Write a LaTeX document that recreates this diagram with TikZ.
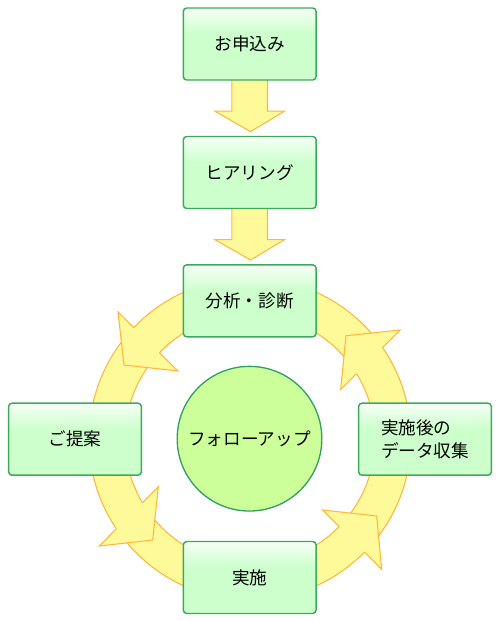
\documentclass[tikz,border=0pt]{standalone}
\usepackage{fontspec}
\setmainfont{Noto Sans CJK JP}
\usetikzlibrary{calc, backgrounds}
\definecolor{boxgreen}{RGB}{204,255,204}
\definecolor{boxtop}{RGB}{246,255,246}
\definecolor{boxline}{RGB}{60,170,90}
\definecolor{ringfill}{RGB}{255,250,153}
\definecolor{ringline}{RGB}{255,182,60}
\definecolor{hubfill}{RGB}{204,255,153}
\definecolor{hubline}{RGB}{50,160,100}
\pgfdeclareverticalshading{boxshade}{100bp}{color(0bp)=(boxgreen); color(57bp)=(boxgreen); color(75bp)=(boxtop); color(100bp)=(boxtop)}
\tikzset{
  stepbox/.style={draw=boxline, line width=1.1pt, rounded corners=2.5pt, shade, shading=boxshade,
    minimum width=99.5pt, minimum height=54pt, font=\fontsize{13.2pt}{17.6pt}\selectfont},
  hubnode/.style={circle, draw=hubline, line width=1pt, fill=hubfill, minimum size=108.5pt,
    font=\fontsize{13.2pt}{17.6pt}\selectfont},
  ringedge/.style={draw=ringline, line width=0.8pt}
}

\begin{document}
\begin{tikzpicture}[x=0.75pt, y=-0.75pt]
\useasboundingbox (0,0) rectangle (500,621);
\coordinate (hub) at (250,439);

\node[stepbox] (apply) at (249.7,44) {お申込み};
\node[stepbox] (hear) at (249.7,172.5) {ヒアリング};
\node[stepbox] (analyze) at (249.7,300.8) {分析・診断};
\node[stepbox] (propose) at (75,439.2) {ご提案};
\node[stepbox, align=left] (collect) at (425,439.2) {実施後の\\データ収集};
\node[stepbox] (execute) at (249.7,577.5) {実施};
\node[hubnode] (follow) at (249.5,438.7) {フォローアップ};

\begin{scope}[on background layer]
% ring
\fill[ringfill, even odd rule] (hub) circle (161) (hub) circle (125);
\draw[ringedge] (hub) circle (161) (hub) circle (125);

% heads on the ring
\fill[ringfill] (133.8,327.5) -- (118,312) -- (124,365) -- (178,371) -- (159.5,352.8) -- cycle;
\draw[ringedge] (133.8,327.5) -- (118,312) -- (124,365) -- (178,371) -- (159.5,352.8);
\fill[ringfill] (116.4,528.8) -- (99.3,546) -- (152.7,540) -- (158.3,486.7) -- (142.4,502.7) -- cycle;
\draw[ringedge] (116.4,528.8) -- (99.3,546) -- (152.7,540) -- (158.3,486.7) -- (142.4,502.7);
\fill[ringfill] (364.6,552.1) -- (381.7,569.3) -- (376.7,516) -- (322.7,510) -- (339.2,526.6) -- cycle;
\draw[ringedge] (364.6,552.1) -- (381.7,569.3) -- (376.7,516) -- (322.7,510) -- (339.2,526.6);
\fill[ringfill] (382.2,347.8) -- (400,330) -- (346,335.7) -- (340.7,389.3) -- (356.3,373.8) -- cycle;
\draw[ringedge] (382.2,347.8) -- (400,330) -- (346,335.7) -- (340.7,389.3) -- (356.3,373.8);

% down arrows
\path[fill=ringfill, ringedge] ($(apply.south)+(-17.8,-5)$) -- ++(0,35.3) -- ++(-17.2,0)
  -- ($(hear.north)+(0.8,-4.1)$) -- ($(apply.south)+(35,30.3)$) -- ++(-17.2,0) -- ++(0,-35.3);
\path[fill=ringfill, ringedge] ($(hear.south)+(-17.8,-5)$) -- ++(0,35.3) -- ++(-17.2,0)
  -- ($(analyze.north)+(0.8,-4.1)$) -- ($(hear.south)+(35,30.3)$) -- ++(-17.2,0) -- ++(0,-35.3);
\end{scope}
\end{tikzpicture}
\end{document}
